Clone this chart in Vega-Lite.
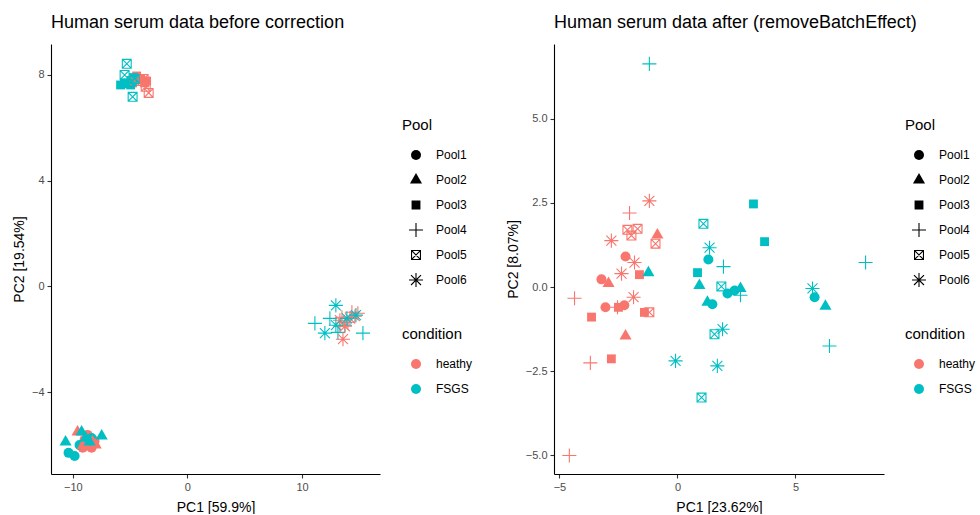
{
  "$schema": "https://vega.github.io/schema/vega-lite/v6.json",
  "background": "white",
  "padding": {"left": 12, "top": 14, "right": 5, "bottom": 0},
  "datasets": {
    "before": [
      {"PC1": -8.71, "PC2": -5.62, "Pool": "Pool1", "condition": "heathy"},
      {"PC1": -9.14, "PC2": -6.11, "Pool": "Pool1", "condition": "heathy"},
      {"PC1": -8.36, "PC2": -6.11, "Pool": "Pool1", "condition": "heathy"},
      {"PC1": -8.97, "PC2": -5.81, "Pool": "Pool1", "condition": "heathy"},
      {"PC1": -8.1, "PC2": -5.85, "Pool": "Pool1", "condition": "heathy"},
      {"PC1": -10.37, "PC2": -6.3, "Pool": "Pool1", "condition": "FSGS"},
      {"PC1": -9.84, "PC2": -6.42, "Pool": "Pool1", "condition": "FSGS"},
      {"PC1": -8.71, "PC2": -5.89, "Pool": "Pool1", "condition": "FSGS"},
      {"PC1": -8.36, "PC2": -5.74, "Pool": "Pool1", "condition": "FSGS"},
      {"PC1": -9.41, "PC2": -6.0, "Pool": "Pool1", "condition": "FSGS"},
      {"PC1": -9.58, "PC2": -5.51, "Pool": "Pool2", "condition": "heathy"},
      {"PC1": -8.79, "PC2": -6.08, "Pool": "Pool2", "condition": "heathy"},
      {"PC1": -8.27, "PC2": -5.89, "Pool": "Pool2", "condition": "heathy"},
      {"PC1": -9.14, "PC2": -6.04, "Pool": "Pool2", "condition": "heathy"},
      {"PC1": -8.0, "PC2": -6.0, "Pool": "Pool2", "condition": "heathy"},
      {"PC1": -10.63, "PC2": -5.89, "Pool": "Pool2", "condition": "FSGS"},
      {"PC1": -7.48, "PC2": -5.66, "Pool": "Pool2", "condition": "FSGS"},
      {"PC1": -9.23, "PC2": -5.51, "Pool": "Pool2", "condition": "FSGS"},
      {"PC1": -8.53, "PC2": -5.89, "Pool": "Pool2", "condition": "FSGS"},
      {"PC1": -8.88, "PC2": -5.74, "Pool": "Pool2", "condition": "FSGS"},
      {"PC1": -4.43, "PC2": 7.96, "Pool": "Pool3", "condition": "heathy"},
      {"PC1": -3.73, "PC2": 7.7, "Pool": "Pool3", "condition": "heathy"},
      {"PC1": -4.08, "PC2": 7.85, "Pool": "Pool3", "condition": "heathy"},
      {"PC1": -4.78, "PC2": 7.7, "Pool": "Pool3", "condition": "heathy"},
      {"PC1": -3.56, "PC2": 7.77, "Pool": "Pool3", "condition": "heathy"},
      {"PC1": -5.83, "PC2": 7.62, "Pool": "Pool3", "condition": "FSGS"},
      {"PC1": -5.3, "PC2": 7.66, "Pool": "Pool3", "condition": "FSGS"},
      {"PC1": -4.95, "PC2": 7.62, "Pool": "Pool3", "condition": "FSGS"},
      {"PC1": -5.5, "PC2": 7.7, "Pool": "Pool3", "condition": "FSGS"},
      {"PC1": -4.7, "PC2": 7.9, "Pool": "Pool3", "condition": "FSGS"},
      {"PC1": 13.48, "PC2": -1.17, "Pool": "Pool4", "condition": "heathy"},
      {"PC1": 14.87, "PC2": -1.02, "Pool": "Pool4", "condition": "heathy"},
      {"PC1": 14.0, "PC2": -1.36, "Pool": "Pool4", "condition": "heathy"},
      {"PC1": 13.3, "PC2": -1.51, "Pool": "Pool4", "condition": "heathy"},
      {"PC1": 14.35, "PC2": -0.98, "Pool": "Pool4", "condition": "heathy"},
      {"PC1": 11.12, "PC2": -1.4, "Pool": "Pool4", "condition": "FSGS"},
      {"PC1": 15.31, "PC2": -1.77, "Pool": "Pool4", "condition": "FSGS"},
      {"PC1": 13.13, "PC2": -1.74, "Pool": "Pool4", "condition": "FSGS"},
      {"PC1": 13.74, "PC2": -1.47, "Pool": "Pool4", "condition": "FSGS"},
      {"PC1": 12.43, "PC2": -1.21, "Pool": "Pool4", "condition": "FSGS"},
      {"PC1": -3.38, "PC2": 7.32, "Pool": "Pool5", "condition": "heathy"},
      {"PC1": -4.17, "PC2": 7.77, "Pool": "Pool5", "condition": "heathy"},
      {"PC1": -3.82, "PC2": 7.85, "Pool": "Pool5", "condition": "heathy"},
      {"PC1": -4.6, "PC2": 7.77, "Pool": "Pool5", "condition": "heathy"},
      {"PC1": -3.64, "PC2": 7.55, "Pool": "Pool5", "condition": "heathy"},
      {"PC1": -5.29, "PC2": 8.42, "Pool": "Pool5", "condition": "FSGS"},
      {"PC1": -5.48, "PC2": 8.0, "Pool": "Pool5", "condition": "FSGS"},
      {"PC1": -4.78, "PC2": 7.17, "Pool": "Pool5", "condition": "FSGS"},
      {"PC1": -4.86, "PC2": 7.77, "Pool": "Pool5", "condition": "FSGS"},
      {"PC1": -4.6, "PC2": 7.85, "Pool": "Pool5", "condition": "FSGS"},
      {"PC1": 13.57, "PC2": -2.0, "Pool": "Pool6", "condition": "heathy"},
      {"PC1": 14.18, "PC2": -1.21, "Pool": "Pool6", "condition": "heathy"},
      {"PC1": 14.61, "PC2": -1.13, "Pool": "Pool6", "condition": "heathy"},
      {"PC1": 13.74, "PC2": -1.51, "Pool": "Pool6", "condition": "heathy"},
      {"PC1": 13.3, "PC2": -1.28, "Pool": "Pool6", "condition": "heathy"},
      {"PC1": 12.95, "PC2": -0.72, "Pool": "Pool6", "condition": "FSGS"},
      {"PC1": 11.99, "PC2": -1.77, "Pool": "Pool6", "condition": "FSGS"},
      {"PC1": 12.95, "PC2": -1.47, "Pool": "Pool6", "condition": "FSGS"},
      {"PC1": 13.91, "PC2": -1.21, "Pool": "Pool6", "condition": "FSGS"},
      {"PC1": 14.7, "PC2": -1.09, "Pool": "Pool6", "condition": "FSGS"}
    ],
    "after": [
      {"PC1": -2.2, "PC2": 0.91, "Pool": "Pool1", "condition": "heathy"},
      {"PC1": -3.22, "PC2": 0.23, "Pool": "Pool1", "condition": "heathy"},
      {"PC1": -3.05, "PC2": -0.6, "Pool": "Pool1", "condition": "heathy"},
      {"PC1": -2.25, "PC2": -0.54, "Pool": "Pool1", "condition": "heathy"},
      {"PC1": -0.85, "PC2": 1.55, "Pool": "Pool2", "condition": "heathy"},
      {"PC1": -2.92, "PC2": 0.11, "Pool": "Pool2", "condition": "heathy"},
      {"PC1": -2.2, "PC2": -1.45, "Pool": "Pool2", "condition": "heathy"},
      {"PC1": -1.61, "PC2": 0.37, "Pool": "Pool3", "condition": "heathy"},
      {"PC1": -2.5, "PC2": -0.6, "Pool": "Pool3", "condition": "heathy"},
      {"PC1": -1.4, "PC2": -0.75, "Pool": "Pool3", "condition": "heathy"},
      {"PC1": -3.64, "PC2": -0.89, "Pool": "Pool3", "condition": "heathy"},
      {"PC1": -2.8, "PC2": -2.13, "Pool": "Pool3", "condition": "heathy"},
      {"PC1": -2.03, "PC2": 2.2, "Pool": "Pool4", "condition": "heathy"},
      {"PC1": -4.36, "PC2": -0.33, "Pool": "Pool4", "condition": "heathy"},
      {"PC1": -2.54, "PC2": -0.6, "Pool": "Pool4", "condition": "heathy"},
      {"PC1": -3.69, "PC2": -2.25, "Pool": "Pool4", "condition": "heathy"},
      {"PC1": -4.58, "PC2": -5.0, "Pool": "Pool4", "condition": "heathy"},
      {"PC1": -2.12, "PC2": 1.7, "Pool": "Pool5", "condition": "heathy"},
      {"PC1": -1.69, "PC2": 1.73, "Pool": "Pool5", "condition": "heathy"},
      {"PC1": -1.95, "PC2": 1.53, "Pool": "Pool5", "condition": "heathy"},
      {"PC1": -0.93, "PC2": 1.29, "Pool": "Pool5", "condition": "heathy"},
      {"PC1": -1.19, "PC2": -0.75, "Pool": "Pool5", "condition": "heathy"},
      {"PC1": -1.19, "PC2": 2.56, "Pool": "Pool6", "condition": "heathy"},
      {"PC1": -2.8, "PC2": 1.38, "Pool": "Pool6", "condition": "heathy"},
      {"PC1": -1.82, "PC2": 0.73, "Pool": "Pool6", "condition": "heathy"},
      {"PC1": -2.37, "PC2": 0.4, "Pool": "Pool6", "condition": "heathy"},
      {"PC1": -1.86, "PC2": -0.3, "Pool": "Pool6", "condition": "heathy"},
      {"PC1": 1.31, "PC2": 0.82, "Pool": "Pool1", "condition": "FSGS"},
      {"PC1": 1.48, "PC2": -0.51, "Pool": "Pool1", "condition": "FSGS"},
      {"PC1": 2.12, "PC2": -0.19, "Pool": "Pool1", "condition": "FSGS"},
      {"PC1": 2.42, "PC2": -0.1, "Pool": "Pool1", "condition": "FSGS"},
      {"PC1": 5.81, "PC2": -0.3, "Pool": "Pool1", "condition": "FSGS"},
      {"PC1": -1.23, "PC2": 0.43, "Pool": "Pool2", "condition": "FSGS"},
      {"PC1": 0.93, "PC2": 0.05, "Pool": "Pool2", "condition": "FSGS"},
      {"PC1": 1.27, "PC2": -0.45, "Pool": "Pool2", "condition": "FSGS"},
      {"PC1": 2.67, "PC2": -0.04, "Pool": "Pool2", "condition": "FSGS"},
      {"PC1": 6.27, "PC2": -0.57, "Pool": "Pool2", "condition": "FSGS"},
      {"PC1": 3.22, "PC2": 2.47, "Pool": "Pool3", "condition": "FSGS"},
      {"PC1": 3.69, "PC2": 1.35, "Pool": "Pool3", "condition": "FSGS"},
      {"PC1": 0.85, "PC2": 0.43, "Pool": "Pool3", "condition": "FSGS"},
      {"PC1": -1.19, "PC2": 6.63, "Pool": "Pool4", "condition": "FSGS"},
      {"PC1": 1.95, "PC2": 0.61, "Pool": "Pool4", "condition": "FSGS"},
      {"PC1": 2.67, "PC2": -0.24, "Pool": "Pool4", "condition": "FSGS"},
      {"PC1": 7.97, "PC2": 0.73, "Pool": "Pool4", "condition": "FSGS"},
      {"PC1": 6.44, "PC2": -1.75, "Pool": "Pool4", "condition": "FSGS"},
      {"PC1": 1.1, "PC2": 1.88, "Pool": "Pool5", "condition": "FSGS"},
      {"PC1": 1.86, "PC2": 0.02, "Pool": "Pool5", "condition": "FSGS"},
      {"PC1": 1.57, "PC2": -1.4, "Pool": "Pool5", "condition": "FSGS"},
      {"PC1": 1.02, "PC2": -3.28, "Pool": "Pool5", "condition": "FSGS"},
      {"PC1": 1.36, "PC2": 1.17, "Pool": "Pool6", "condition": "FSGS"},
      {"PC1": 1.91, "PC2": -1.25, "Pool": "Pool6", "condition": "FSGS"},
      {"PC1": -0.08, "PC2": -2.19, "Pool": "Pool6", "condition": "FSGS"},
      {"PC1": 1.69, "PC2": -2.34, "Pool": "Pool6", "condition": "FSGS"},
      {"PC1": 5.72, "PC2": -0.04, "Pool": "Pool6", "condition": "FSGS"}
    ]
  },
  "hconcat": [
    {
      "title": "Human serum data before correction",
      "width": 329,
      "height": 430,
      "data": {"name": "before"},
      "mark": {"type": "point", "filled": true, "size": 100, "opacity": 1, "strokeWidth": 0},
      "encoding": {
        "x": {"field": "PC1", "type": "quantitative", "scale": {"domain": [-11.9, 16.8], "nice": false, "zero": false}, "axis": {"values": [-10, 0, 10], "title": "PC1 [59.9%]"}},
        "y": {"field": "PC2", "type": "quantitative", "scale": {"domain": [-7.1, 9.17], "nice": false, "zero": false}, "axis": {"values": [-4, 0, 4, 8], "title": "PC2 [19.54%]"}},
        "shape": {"field": "Pool", "type": "nominal", "scale": {"domain": ["Pool1", "Pool2", "Pool3", "Pool4", "Pool5", "Pool6"], "range": ["circle", "M0,-1.4L1.21,0.7L-1.21,0.7Z", "M-0.886,-0.886L0.886,-0.886L0.886,0.886L-0.886,0.886Z", "M-1.41,-0.11L1.41,-0.11L1.41,0.11L-1.41,0.11ZM0.11,-1.41L0.11,1.41L-0.11,1.41L-0.11,-1.41Z", "M-1,-1L1,-1L1,1L-1,1ZM-0.78,-0.78L-0.78,0.78L0.78,0.78L0.78,-0.78ZM-0.841,-0.997L0.997,0.841L0.841,0.997L-0.997,-0.841ZM-0.997,0.841L0.841,-0.997L0.997,-0.841L-0.841,0.997Z", "M-1.41,-0.11L1.41,-0.11L1.41,0.11L-1.41,0.11ZM0.11,-1.41L0.11,1.41L-0.11,1.41L-0.11,-1.41ZM-0.919,-1.075L1.075,0.919L0.919,1.075L-1.075,-0.919ZM-1.075,0.919L0.919,-1.075L1.075,-0.919L-0.919,1.075Z"]}, "legend": {"title": "Pool", "symbolFillColor": "black", "orient": "none", "legendX": 351, "legendY": 74}},
        "color": {"field": "condition", "type": "nominal", "scale": {"domain": ["heathy", "FSGS"], "range": ["#F8766D", "#00BFC4"]}, "legend": {"title": "condition", "orient": "none", "legendX": 351, "legendY": 283}}
      }
    },
    {
      "title": "Human serum data after (removeBatchEffect)",
      "width": 330,
      "height": 430,
      "data": {"name": "after"},
      "mark": {"type": "point", "filled": true, "size": 100, "opacity": 1, "strokeWidth": 0},
      "encoding": {
        "x": {"field": "PC1", "type": "quantitative", "scale": {"domain": [-5.23, 8.75], "nice": false, "zero": false}, "axis": {"values": [-5, 0, 5], "title": "PC1 [23.62%]"}},
        "y": {"field": "PC2", "type": "quantitative", "scale": {"domain": [-5.55, 7.22], "nice": false, "zero": false}, "axis": {"values": [-5, -2.5, 0, 2.5, 5], "format": ".1f", "title": "PC2 [8.07%]"}},
        "shape": {"field": "Pool", "type": "nominal", "scale": {"domain": ["Pool1", "Pool2", "Pool3", "Pool4", "Pool5", "Pool6"], "range": ["circle", "M0,-1.4L1.21,0.7L-1.21,0.7Z", "M-0.886,-0.886L0.886,-0.886L0.886,0.886L-0.886,0.886Z", "M-1.41,-0.11L1.41,-0.11L1.41,0.11L-1.41,0.11ZM0.11,-1.41L0.11,1.41L-0.11,1.41L-0.11,-1.41Z", "M-1,-1L1,-1L1,1L-1,1ZM-0.78,-0.78L-0.78,0.78L0.78,0.78L0.78,-0.78ZM-0.841,-0.997L0.997,0.841L0.841,0.997L-0.997,-0.841ZM-0.997,0.841L0.841,-0.997L0.997,-0.841L-0.841,0.997Z", "M-1.41,-0.11L1.41,-0.11L1.41,0.11L-1.41,0.11ZM0.11,-1.41L0.11,1.41L-0.11,1.41L-0.11,-1.41ZM-0.919,-1.075L1.075,0.919L0.919,1.075L-1.075,-0.919ZM-1.075,0.919L0.919,-1.075L1.075,-0.919L-0.919,1.075Z"]}, "legend": {"title": "Pool", "symbolFillColor": "black", "orient": "none", "legendX": 351, "legendY": 74}},
        "color": {"field": "condition", "type": "nominal", "scale": {"domain": ["heathy", "FSGS"], "range": ["#F8766D", "#00BFC4"]}, "legend": {"title": "condition", "orient": "none", "legendX": 351, "legendY": 283}}
      }
    }
  ],
  "spacing": 33,
  "resolve": {
    "scale": {"x": "independent", "y": "independent", "color": "independent", "shape": "independent"},
    "legend": {"color": "independent", "shape": "independent"}
  },
  "config": {
    "font": "Liberation Sans",
    "view": {"stroke": null},
    "title": {"anchor": "start", "frame": "group", "fontSize": 18, "fontWeight": "normal", "font": "Liberation Sans", "color": "black", "offset": 12},
    "axis": {
      "grid": false, "domainColor": "black", "domainWidth": 1.1, "tickColor": "#333333", "tickWidth": 1.1, "tickSize": 4,
      "labelColor": "#4D4D4D", "labelFontSize": 11, "labelFont": "Liberation Sans", "labelPadding": 3, "labelFlush": false,
      "titleFont": "Liberation Sans", "titleFontSize": 14, "titleFontWeight": "normal", "titleColor": "black"
    },
    "axisX": {"titlePadding": 8},
    "axisY": {"titlePadding": 5},
    "legend": {
      "titleFont": "Liberation Sans", "titleFontSize": 15, "titleFontWeight": "normal", "titleColor": "black", "titlePadding": 15,
      "labelFont": "Liberation Sans", "labelFontSize": 12, "labelColor": "black", "labelOffset": 14,
      "symbolOffset": 8, "symbolStrokeWidth": 0, "symbolSize": 100, "rowPadding": 11, "clipHeight": 14
    }
  }
}
